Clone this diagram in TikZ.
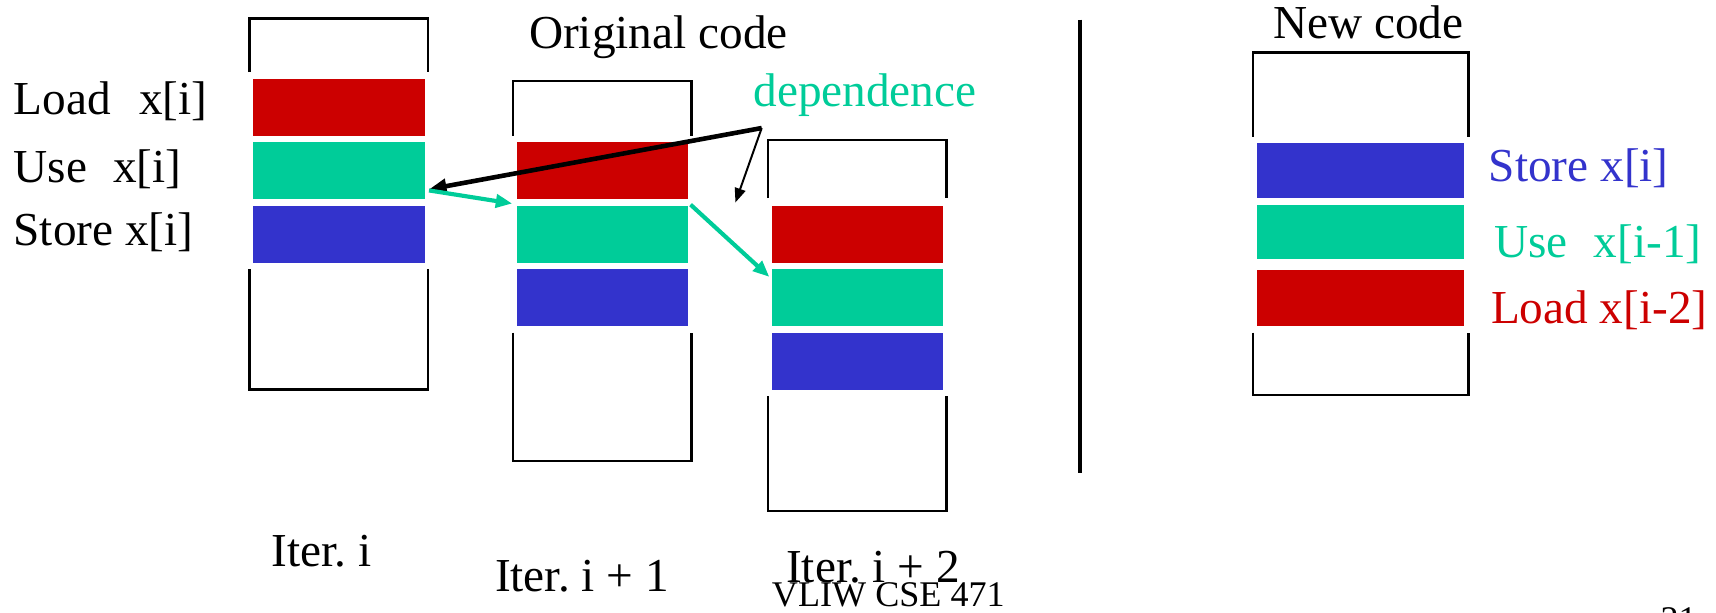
\documentclass[tikz,border=0pt]{standalone}
\usepackage{fontspec}
\setmainfont{Liberation Serif}
\usetikzlibrary{arrows.meta,calc}
\frenchspacing
\definecolor{ldred}{HTML}{CC0000}
\definecolor{usegreen}{HTML}{00CC99}
\definecolor{stblue}{HTML}{3333CC}
\tikzset{
  bar/.style={anchor=north west, inner sep=0pt, outer sep=0pt, minimum width=78.5pt, minimum height=26pt, draw=none},
  widebar/.style={bar, minimum width=94.5pt},
  bracket/.style={line width=1.1pt},
  lbl/.style={anchor=base west, inner sep=0pt, font=\fontsize{21.6}{25}\selectfont},
  small/.style={anchor=base west, inner sep=0pt, font=\fontsize{16.5}{20}\selectfont},
  deparrow/.style={draw=usegreen, line width=1.9pt, -{Triangle[length=7.5pt,width=6pt]}},
  blkarrow/.style={draw=black, line width=2.1pt, -{Triangle[length=8pt,width=6.5pt]}},
  thinarrow/.style={draw=black, line width=0.9pt, -{Triangle[length=6.5pt,width=5pt]}}
}
\begin{document}
\begin{tikzpicture}[x=0.5pt,y=-0.5pt]
\useasboundingbox (0,0) rectangle (1568,560);

% left-hand operation labels
\node[lbl] (tLoad)  at (12,105) {Load\hspace{0.6em}x[i]};
\node[lbl] (tUse)   at (12,167) {Use\hspace{0.55em}x[i]};
\node[lbl] (tStore) at (12,224) {Store x[i]};

% iteration i
\draw[bracket] (228,66) |- (391,17) -- (391,66);
\node[bar, fill=ldred]    (loadA)  at (231,72) {};
\node[bar, fill=usegreen] (useA)   at (231,130) {};
\node[bar, fill=stblue]   (storeA) at (231,188) {};
\draw[bracket] (228,246) |- (391,356) -- (391,246);

% iteration i + 1
\draw[bracket] (469,124) |- (632,74) -- (632,124);
\node[bar, fill=ldred]    (loadB)  at (472,130) {};
\node[bar, fill=usegreen] (useB)   at (472,188) {};
\node[bar, fill=stblue]   (storeB) at (472,246) {};
\draw[bracket] (469,304) |- (632,421) -- (632,304);

% iteration i + 2
\draw[bracket] (702,181) |- (865,128) -- (865,181);
\node[bar, fill=ldred]    (loadC)  at (705,188) {};
\node[bar, fill=usegreen] (useC)   at (705,246) {};
\node[bar, fill=stblue]   (storeC) at (705,304) {};
\draw[bracket] (702,362) |- (865,467) -- (865,362);

% titles
\node[lbl] (origT) at (483,44) {Original code};
\node[lbl, text=usegreen] (depT) at (688,97.5) {dependence};

% dependence arrows
\coordinate (J) at (696,117);
\coordinate (gapPt) at ($(loadC.north west)+(-33,-3)$);
\draw[blkarrow] (J) -- ($(useA.south east)+(4,-9)$);
\draw[thinarrow] (J) -- (gapPt);
\draw[deparrow] ($(useA.south east)+(4,-8)$) -- ($(useB.north west)+(-4,-2)$);
\draw[deparrow] ($(useB.north east)+(2,-1)$) -- ($(useC.north west)+(-2,7)$);

% divider
\draw[line width=1.9pt] (987,18) -- (987,432) coordinate (divEnd);

% new code
\node[lbl] (newT) at (1163,35) {New code};
\draw[bracket] (1145,125) |- (1342,48) -- (1342,125);
\node[widebar, fill=stblue, minimum height=25pt]   (newStore) at (1149,131) {};
\node[widebar, fill=usegreen, minimum height=25pt] (newUse)   at (1149,187) {};
\node[widebar, fill=ldred, minimum height=25.5pt]  (newLoad)  at (1149,247) {};
\draw[bracket] (1145,304) |- (1342,361) -- (1342,304);
\node[lbl, text=stblue]   (rStore) at (1360,165.5) {Store x[i]};
\node[lbl, text=usegreen] (rUse)   at (1365,235.5) {Use\hspace{0.55em}x[i-1]};
\node[lbl, text=ldred]    (rLoad)  at (1362,295.5) {Load x[i-2]};

% iteration captions and footer
\node[lbl] (itA) at (248,518) {Iter. i};
\node[lbl] (itB) at (452,540.5) {Iter. i + 1};
\node[lbl] (itC) at (718,532.5) {Iter. i + 2};
\node[small] (foot) at (705,554) {VLIW CSE 471};
\node[small] (pageNo) at (1517,577) {21};
\end{tikzpicture}
\end{document}
